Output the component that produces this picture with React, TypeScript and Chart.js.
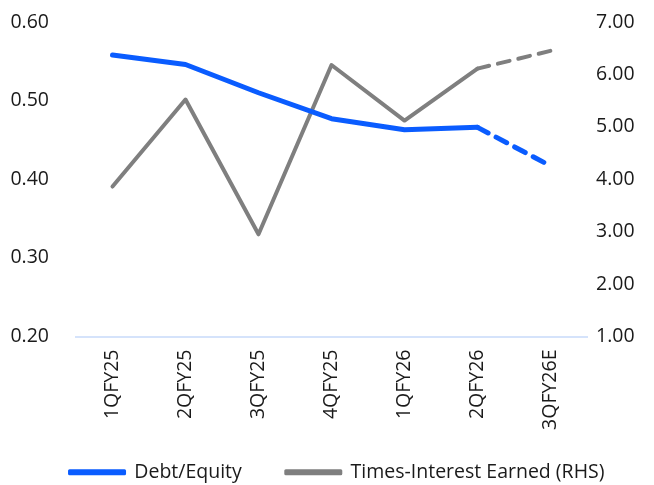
import React, { useEffect, useRef } from "react";
import { Chart, registerables } from "chart.js";

Chart.register(...registerables);

const categories = ["1QFY25", "2QFY25", "3QFY25", "4QFY25", "1QFY26", "2QFY26", "3QFY26E"];
const debtEquity = [0.558, 0.546, 0.51, 0.477, 0.463, 0.466, 0.417];
const timesInterest = [3.86, 5.52, 2.95, 6.18, 5.12, 6.11, 6.45];
const leftTicks = [0.2, 0.3, 0.4, 0.5, 0.6];
const rightTicks = [1, 2, 3, 4, 5, 6, 7];

const BLUE = "#0a5cff";
const GREY = "#7f7f7f";
const FONT = "'Open Sans', 'Noto Sans', sans-serif";
const FS = 19.5;

const layoutTweak = {
  id: "layoutTweak",
  afterLayout(chart: any) {
    // let the rotated category labels extend below the x scale box without being clipped
    if (chart.scales.x) chart.scales.x.bottom = chart.height;
    if (chart.legend) {
      chart.legend.left += 10;
      chart.legend.right += 10;
    }
  },
};

export default function App() {
  const ref = useRef<HTMLCanvasElement | null>(null);
  useEffect(() => {
    document.body.style.margin = "0";
    const ctx = ref.current!;
    const dashLast = (c: any) => (c.p1DataIndex === categories.length - 1 ? [12, 9] : undefined);
    const chart = new Chart(ctx, {
      type: "line",
      data: {
        labels: categories,
        datasets: [
          {
            label: "Debt/Equity",
            data: debtEquity,
            borderColor: BLUE,
            backgroundColor: BLUE,
            borderWidth: 5,
            pointRadius: 0,
            borderCapStyle: "round",
            borderJoinStyle: "round",
            tension: 0,
            yAxisID: "y",
            segment: { borderDash: dashLast },
          },
          {
            label: "Times-Interest Earned (RHS)",
            data: timesInterest,
            borderColor: GREY,
            backgroundColor: GREY,
            borderWidth: 4,
            pointRadius: 0,
            borderCapStyle: "round",
            borderJoinStyle: "round",
            tension: 0,
            yAxisID: "y1",
            segment: { borderDash: dashLast },
          },
        ],
      },
      plugins: [layoutTweak],
      options: {
        animation: false,
        responsive: false,
        layout: { padding: { top: 22, left: 0, right: 0, bottom: -7 } },
        plugins: {
          tooltip: { enabled: false },
          legend: {
            position: "bottom",
            labels: {
              color: "#1a1a1a",
              font: { family: FONT, size: FS },
              boxWidth: 55,
              boxHeight: 3,
              padding: 44,
              generateLabels: (ch: any) =>
                ch.data.datasets.map((d: any, i: number) => ({
                  text: d.label,
                  fillStyle: d.borderColor,
                  strokeStyle: d.borderColor,
                  lineWidth: 3,
                  lineJoin: "round",
                  lineCap: "round",
                  hidden: false,
                  datasetIndex: i,
                  fontColor: "#1a1a1a",
                })),
            },
          },
        },
        scales: {
          x: {
            offset: true,
            grid: { display: false, drawTicks: false },
            border: { display: true, color: "#d5e3fb", width: 2 },
            ticks: {
              color: "#1a1a1a",
              font: { family: FONT, size: FS },
              maxRotation: 90,
              minRotation: 90,
              padding: 13,
            },
            afterFit: (s: any) => {
              s.height = 82;
            },
          },
          y: {
            position: "left",
            min: 0.2,
            max: 0.6,
            afterBuildTicks: (s: any) => {
              s.ticks = leftTicks.map((v) => ({ value: v }));
            },
            grid: { display: false, drawTicks: false },
            border: { display: false },
            ticks: {
              color: "#1a1a1a",
              font: { family: FONT, size: FS },
              padding: 27,
              callback: (v: any) => Number(v).toFixed(2),
            },
            afterFit: (s: any) => {
              s.width = 76;
              s.paddingTop = 0;
              s.paddingBottom = 0;
            },
          },
          y1: {
            position: "right",
            min: 1,
            max: 7,
            afterBuildTicks: (s: any) => {
              s.ticks = rightTicks.map((v) => ({ value: v }));
            },
            grid: { display: false, drawTicks: false },
            border: { display: false },
            ticks: {
              color: "#1a1a1a",
              font: { family: FONT, size: FS },
              padding: 9,
              callback: (v: any) => Number(v).toFixed(2),
            },
            afterFit: (s: any) => {
              s.width = 67;
              s.paddingTop = 0;
              s.paddingBottom = 0;
            },
          },
        },
      },
    } as any);
    return () => chart.destroy();
  }, []);
  return (
    <div style={{ width: 654, height: 485 }}>
      <canvas ref={ref} width={654} height={485} style={{ display: "block" }} />
    </div>
  );
}
